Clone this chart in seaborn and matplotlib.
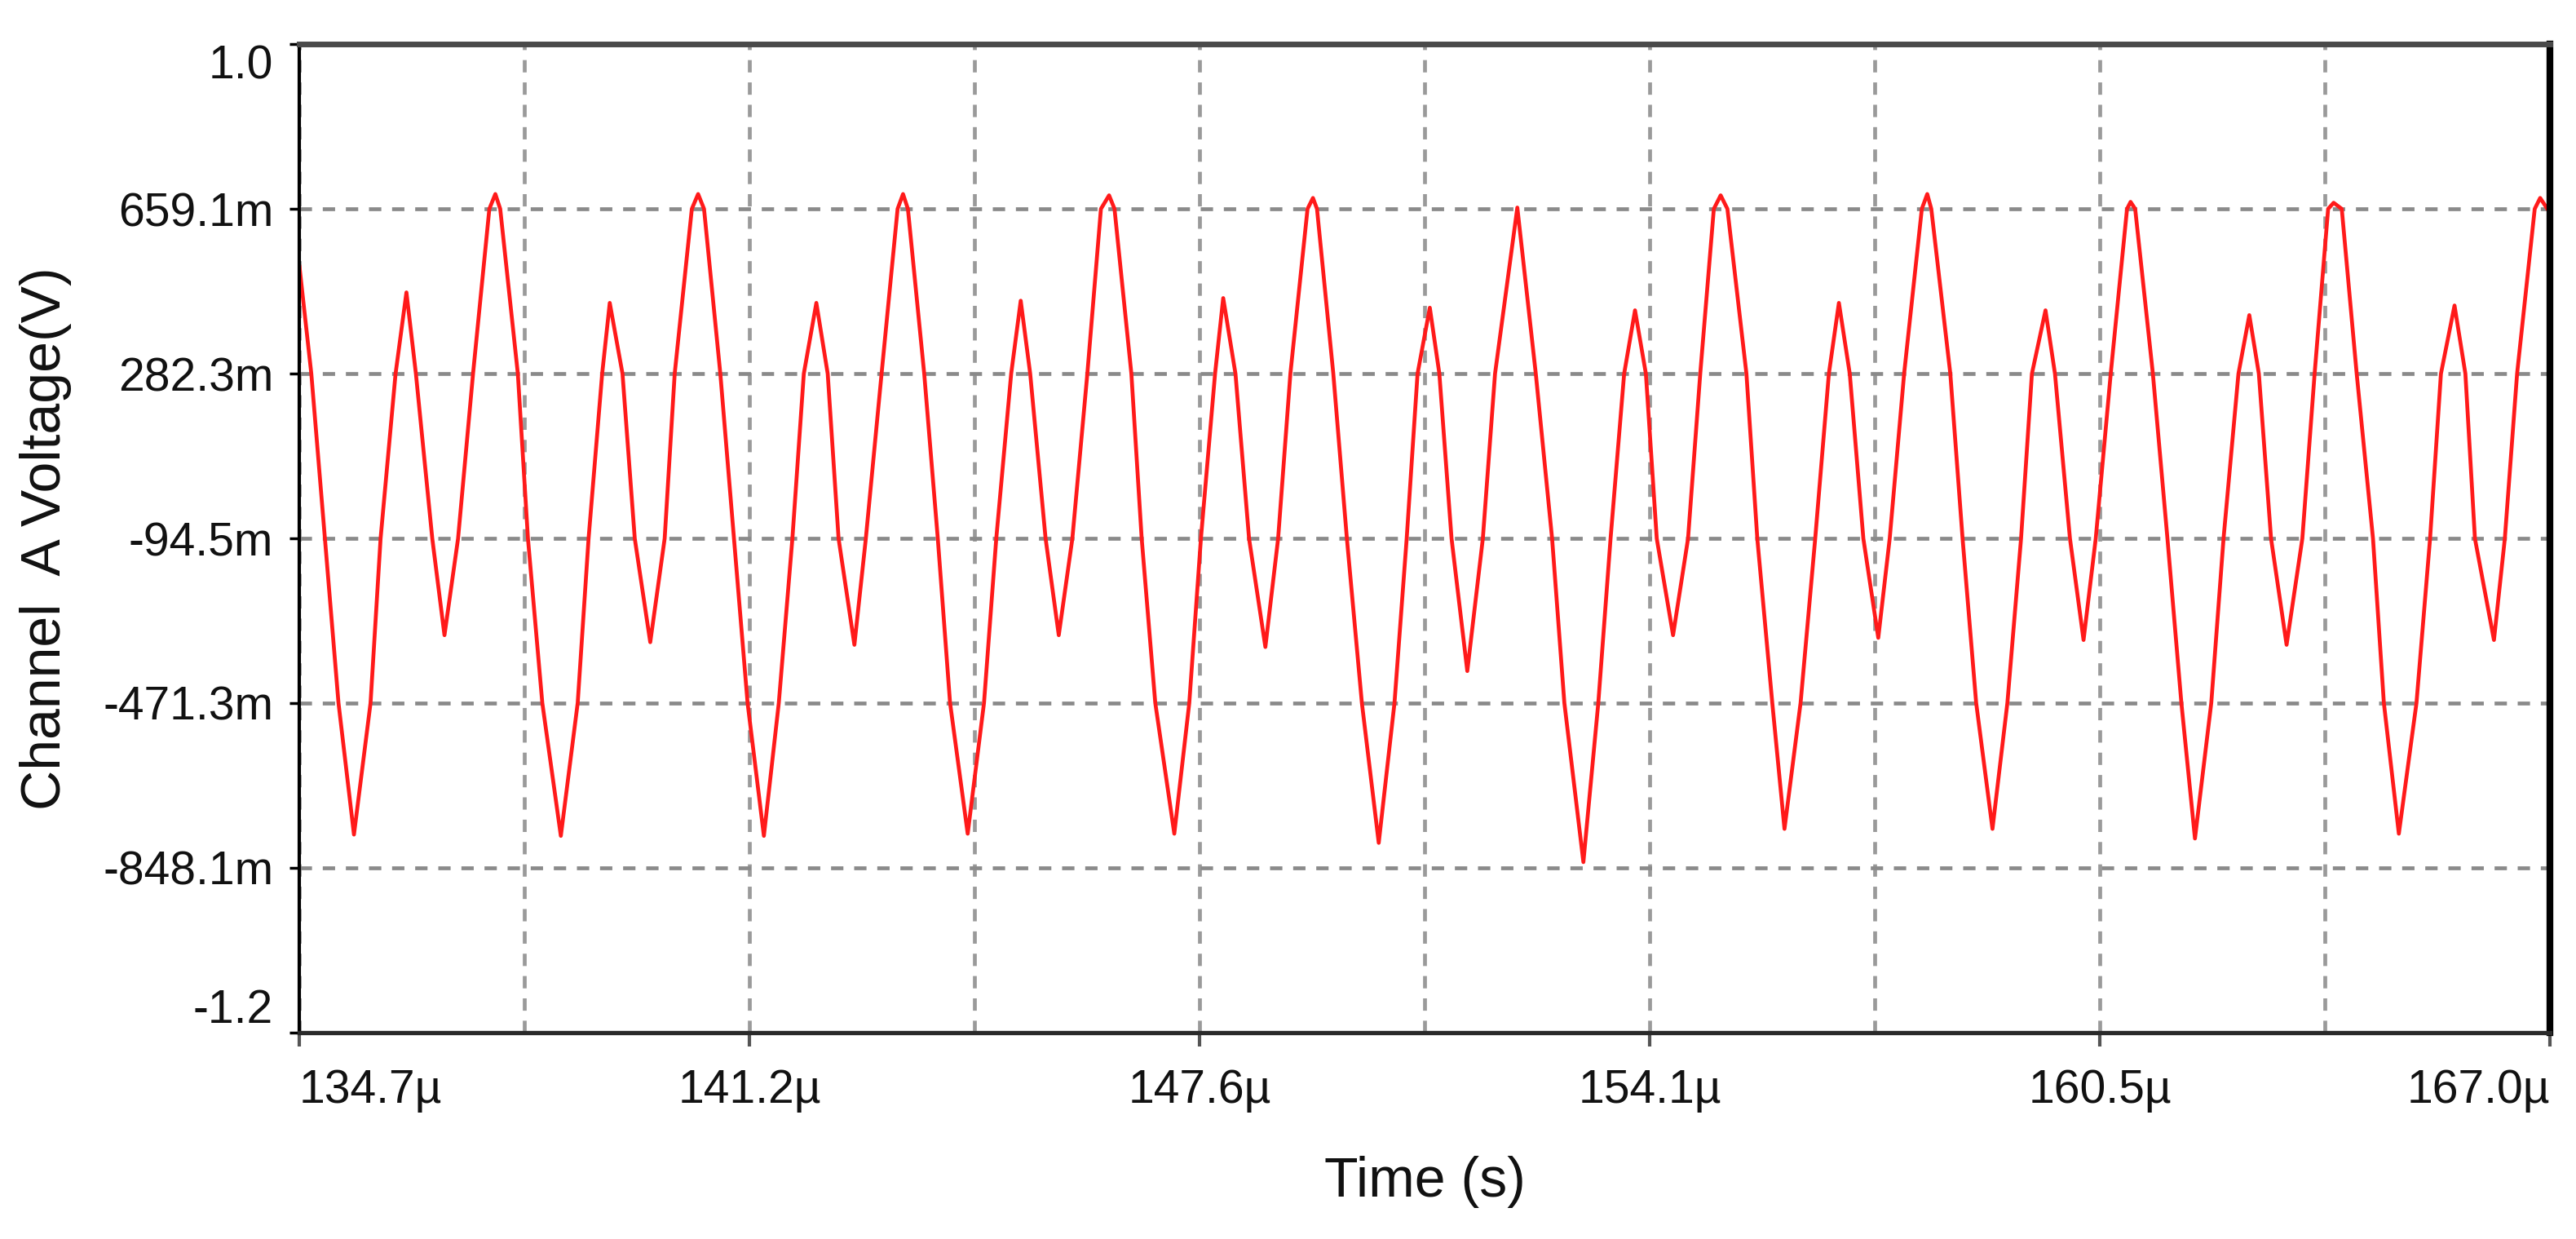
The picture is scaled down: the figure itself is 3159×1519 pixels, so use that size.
"""
Channel A transient trace (oscilloscope style) redrawn with seaborn.
"""

import matplotlib

matplotlib.use("Agg")
import matplotlib.pyplot as plt
import pandas as pd
import seaborn as sns

# --- data (time in us, voltage in V) ---
time_us = [
    134.70, 134.872, 135.067, 135.262, 135.484, 135.722, 135.866, 136.081, 136.237, 136.373,
    136.608, 136.783, 136.978, 137.193, 137.427, 137.513, 137.583, 137.836, 137.981, 138.187,
    138.453, 138.695, 138.851, 139.046, 139.155, 139.338, 139.514, 139.736, 139.943,
    140.087, 140.333, 140.423, 140.508, 140.742, 140.938, 141.133, 141.367, 141.581, 141.776,
    141.940, 142.120, 142.283, 142.439, 142.666, 142.830, 143.056, 143.286, 143.364, 143.434,
    143.668, 143.863, 144.039, 144.292, 144.526, 144.702, 144.916, 145.053, 145.189, 145.410,
    145.599, 145.794, 146.009, 146.204, 146.321, 146.399, 146.641, 146.789, 146.984, 147.257,
    147.472, 147.639, 147.842, 147.959, 148.135, 148.330, 148.564, 148.747, 148.923, 149.169,
    149.247, 149.305, 149.539, 149.734, 149.949, 150.191, 150.417, 150.592, 150.748,
    150.924, 151.061, 151.236, 151.462, 151.685, 151.860, 152.180, 152.445, 152.679, 152.855,
    153.128, 153.342, 153.518, 153.713, 153.869, 154.025, 154.181, 154.415, 154.630, 154.805,
    155.000, 155.098, 155.195, 155.468, 155.624, 155.839, 156.014, 156.245,
    156.455, 156.651, 156.795, 156.951, 157.146, 157.360, 157.524, 157.731, 157.985, 158.063,
    158.121, 158.394, 158.570, 158.765, 158.999, 159.213, 159.409, 159.565, 159.760, 159.896,
    160.111, 160.306, 160.481, 160.696, 160.930, 160.981, 161.047, 161.301, 161.510,
    161.710, 161.905, 162.139, 162.315, 162.529, 162.685, 162.822, 162.997, 163.220, 163.446,
    163.622, 163.816, 163.895, 164.012, 164.226, 164.460, 164.616, 164.831, 165.084, 165.279,
    165.435, 165.630, 165.786, 165.923, 166.196, 166.352, 166.528, 166.781, 166.859, 167.00,
]
volts = [
    0.530, 0.282, -0.095, -0.471, -0.772, -0.471, -0.095, 0.282, 0.468, 0.282,
    -0.095, -0.316, -0.095, 0.282, 0.659, 0.693, 0.659, 0.282, -0.095, -0.471,
    -0.775, -0.471, -0.095, 0.282, 0.444, 0.282, -0.095, -0.332, -0.095,
    0.282, 0.659, 0.693, 0.659, 0.282, -0.095, -0.471, -0.775, -0.471, -0.095,
    0.282, 0.444, 0.282, -0.095, -0.338, -0.095, 0.282, 0.659, 0.693, 0.659,
    0.282, -0.095, -0.471, -0.770, -0.471, -0.095, 0.282, 0.449, 0.282, -0.095,
    -0.316, -0.095, 0.282, 0.659, 0.690, 0.659, 0.282, -0.095, -0.471, -0.770,
    -0.471, -0.095, 0.282, 0.455, 0.282, -0.095, -0.343, -0.095, 0.282, 0.659,
    0.684, 0.659, 0.282, -0.095, -0.471, -0.791, -0.471, -0.095, 0.282,
    0.433, 0.282, -0.095, -0.398, -0.095, 0.282, 0.662, 0.282, -0.095, -0.471,
    -0.835, -0.471, -0.095, 0.282, 0.427, 0.282, -0.095, -0.316, -0.095, 0.282,
    0.659, 0.690, 0.659, 0.282, -0.095, -0.471, -0.759, -0.471,
    -0.095, 0.282, 0.444, 0.282, -0.095, -0.322, -0.095, 0.282, 0.659, 0.693,
    0.659, 0.282, -0.095, -0.471, -0.759, -0.471, -0.095, 0.282, 0.427, 0.282,
    -0.095, -0.327, -0.095, 0.282, 0.659, 0.675, 0.659, 0.282, -0.095,
    -0.471, -0.781, -0.471, -0.095, 0.282, 0.416, 0.282, -0.095, -0.338, -0.095,
    0.282, 0.659, 0.673, 0.659, 0.282, -0.095, -0.471, -0.770, -0.471, -0.095,
    0.282, 0.438, 0.282, -0.095, -0.327, -0.095, 0.282, 0.659, 0.684, 0.650,
]

x_major = [134.70, 141.16, 147.62, 154.08, 160.54, 167.00]
x_major_labels = ["134.7µ", "141.2µ", "147.6µ", "154.1µ", "160.5µ", "167.0µ"]
x_minor = [137.93, 144.39, 150.85, 157.31, 163.77]

y_ticks = [-1.2249, -0.8481, -0.4713, -0.0945, 0.2823, 0.6591, 1.0359]
y_tick_labels = ["-1.2", "-848.1m", "-471.3m", "-94.5m", "282.3m", "659.1m", "1.0"]

df = pd.DataFrame({"time": time_us, "volts": volts})

sns.set_style("white")
plt.rcParams["font.family"] = ["Liberation Sans", "DejaVu Sans"]

fig = plt.figure(figsize=(31.59, 15.19), dpi=100)
ax = fig.add_axes([0.1162, 0.1666, 0.8737, 0.7978])

sns.lineplot(data=df, x="time", y="volts", color="#ff1a1a", linewidth=3.4,
             estimator=None, sort=False, ax=ax, zorder=3)

ax.set_xlim(x_major[0], x_major[-1])
ax.set_ylim(y_ticks[0], y_ticks[-1])

ax.set_xticks(x_major)
ax.set_xticklabels(x_major_labels, fontsize=41, color="#111111")
ax.set_xticks(x_minor, minor=True)
ax.set_yticks(y_ticks)
ax.set_yticklabels(y_tick_labels, fontsize=41, color="#111111")

xl = ax.get_xticklabels()
xl[0].set_ha("left")
xl[-1].set_ha("right")
yl = ax.get_yticklabels()
yl[0].set_va("bottom")
yl[-1].set_va("top")

ax.tick_params(axis="x", which="major", length=12, width=3, color="#555555",
               direction="out", pad=20)
ax.tick_params(axis="x", which="minor", length=6, width=3, color="#333333",
               direction="out")
ax.tick_params(axis="y", which="major", length=9, width=2.5, color="black",
               direction="out", pad=14)
ax.tick_params(left=True, bottom=True)

ax.grid(True, axis="x", which="both", color="#9a9a9a", linestyle=(0, (3.2, 2.6)),
        linewidth=3.4)
ax.grid(True, axis="y", which="major", color="#8a8a8a", linestyle=(0, (3.2, 2.8)),
        linewidth=3.4)
ax.set_axisbelow(True)

ax.spines["left"].set_color("black")
ax.spines["left"].set_linewidth(3.0)
ax.spines["bottom"].set_color("#2a2a2a")
ax.spines["bottom"].set_linewidth(3.8)
ax.spines["top"].set_color("#4a4a4a")
ax.spines["top"].set_linewidth(5.0)
ax.spines["right"].set_color("black")
ax.spines["right"].set_linewidth(6.0)
for s in ax.spines.values():
    s.set_visible(True)
    s.set_zorder(4)

ax.set_xlabel("Time (s)", fontsize=49, color="#111111")
ax.set_ylabel("Channel  A Voltage(V)", fontsize=49, color="#111111")
ax.xaxis.set_label_coords(0.5, -0.125)
ax.yaxis.set_label_coords(-0.101, 0.5)

fig.savefig("out.png", dpi=100)
plt.close(fig)
